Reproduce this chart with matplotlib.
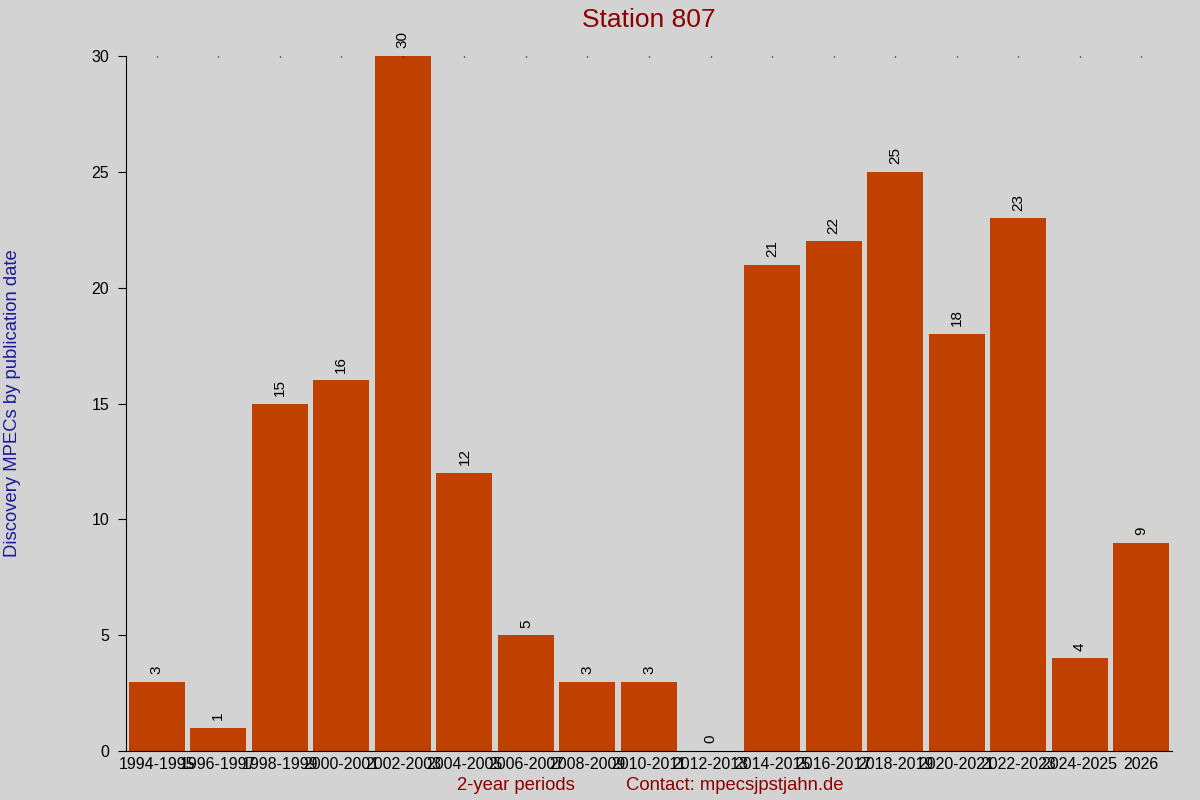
import matplotlib
matplotlib.use("Agg")
import matplotlib.pyplot as plt

periods = ["1994-1995", "1996-1997", "1998-1999", "2000-2001", "2002-2003",
           "2004-2005", "2006-2007", "2008-2009", "2010-2011", "2012-2013",
           "2014-2015", "2016-2017", "2018-2019", "2020-2021", "2022-2023",
           "2024-2025", "2026"]
counts = [3, 1, 15, 16, 30, 12, 5, 3, 3, 0, 21, 22, 25, 18, 23, 4, 9]

plt.rcParams["font.family"] = ["Liberation Sans", "DejaVu Sans"]

bg = "#d3d3d3"
fig = plt.figure(figsize=(12, 8), dpi=100, facecolor=bg)
ax = fig.add_axes([0.105, 0.06125, 0.8717, 0.86875], facecolor=bg)

x = list(range(len(periods)))
ax.bar(x, counts, width=0.91, color="#c04000")

# value labels above each bar
for xi, v in zip(x, counts):
    ax.annotate(str(v), (xi, v), xytext=(0, 5.5), textcoords="offset points",
                rotation=90, ha="center", va="bottom", fontsize=11)

ax.set_xlim(-0.5, 16.5)
ax.set_ylim(0, 30)
ax.set_yticks([0, 5, 10, 15, 20, 25, 30])
ax.set_xticks(x)
ax.set_xticklabels(periods, fontsize=11.5)
ax.tick_params(axis="y", labelsize=11.5, length=6, direction="out", pad=6)
ax.tick_params(axis="x", bottom=False, top=True, labelbottom=True,
               direction="in", length=1, width=1, pad=4)

ax.spines["top"].set_visible(False)
ax.spines["right"].set_visible(False)

fig.text(0.5408, 0.975, "Station 807", ha="center", va="center",
         fontsize=19, color="#8b0000")
fig.text(0.0105, 0.496, "Discovery MPECs by publication date", rotation=90,
         ha="center", va="center", fontsize=13.3, color="#1a1a9c")
fig.text(0.381, 0.0175, "2-year periods", ha="left", va="center",
         fontsize=13.3, color="#8b0000")
fig.text(0.522, 0.0175, "Contact: mpecsjpstjahn.de", ha="left", va="center",
         fontsize=13.3, color="#8b0000")

fig.savefig("out.png", dpi=100, facecolor=bg)
